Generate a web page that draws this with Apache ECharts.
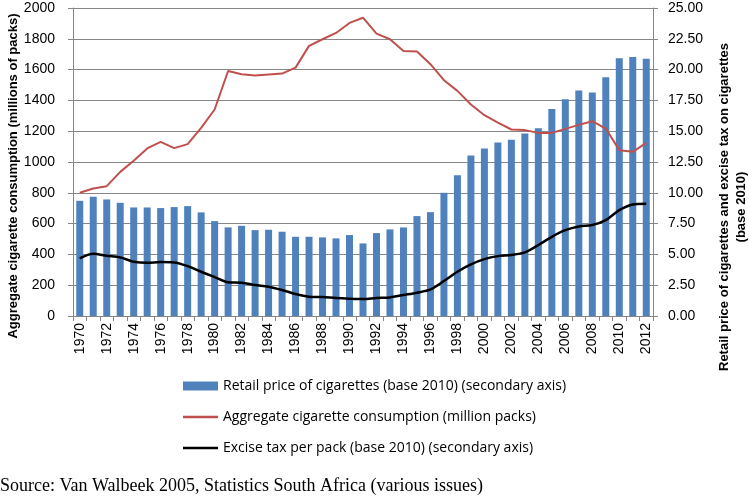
<!DOCTYPE html>
<html><head><meta charset="utf-8">
<script src="https://cdn.jsdelivr.net/npm/echarts@6/dist/echarts.min.js"></script>
<style>html,body{margin:0;padding:0;background:#fff}#c{width:749px;height:496px}</style>
</head><body><div id="c"></div>
<script>
const years = [];
for (let y = 1970; y <= 2012; y++) years.push(String(y));
const retailPrice = [9.35,9.68,9.46,9.19,8.81,8.81,8.76,8.84,8.92,8.41,7.70,7.19,7.32,6.97,7.00,6.84,6.43,6.43,6.38,6.30,6.57,5.89,6.73,7.03,7.19,8.11,8.43,10.0,11.43,13.03,13.59,14.08,14.30,14.81,15.24,16.81,17.59,18.30,18.14,19.38,20.92,21.03,20.89];
const consumption = [800,828,843,936,1008,1088,1131,1090,1116,1222,1341,1591,1570,1561,1568,1574,1613,1754,1797,1838,1903,1937,1834,1797,1721,1717,1635,1531,1462,1373,1304,1256,1211,1207,1189,1189,1215,1241,1265,1217,1077,1066,1124];
const exciseTax = [4.68,5.05,4.89,4.76,4.41,4.32,4.38,4.35,4.05,3.59,3.16,2.73,2.70,2.51,2.38,2.11,1.78,1.57,1.54,1.46,1.41,1.38,1.46,1.51,1.70,1.89,2.16,2.84,3.59,4.19,4.62,4.86,4.95,5.16,5.76,6.43,6.97,7.27,7.38,7.78,8.59,9.05,9.11];

const chart = echarts.init(document.getElementById('c'), null, {renderer:'canvas'});
const font = 'Liberation Sans, Arial, sans-serif';
const lineIcon = 'path://M0,0H70V5H0Z';
chart.setOption({
  animation:false,
  textStyle:{fontFamily:font},
  grid:{left:73, right:96, top:8, bottom:180},
  legend:{
    orient:'vertical', left:178, top:374, itemGap:17, itemWidth:35, itemHeight:9,
    textStyle:{fontFamily:'Open Sans, sans-serif', fontSize:14, color:'#000'},
    data:[
      {name:'Retail price of cigarettes (base 2010) (secondary axis)', icon:'rect'},
      {name:'Aggregate cigarette consumption (million packs)', icon:lineIcon},
      {name:'Excise tax per pack (base 2010) (secondary axis)', icon:lineIcon}
    ]
  },
  xAxis:{
    type:'category', data:years, boundaryGap:true,
    axisLine:{lineStyle:{color:'#868686', width:1}},
    axisTick:{show:true, interval:0, length:5, lineStyle:{color:'#868686'}},
    axisLabel:{interval:1, rotate:90, color:'#000', fontSize:14, margin:7, fontFamily:font}
  },
  yAxis:[
    {type:'value', min:0, max:2000, interval:200, position:'left',
     axisLine:{show:true, lineStyle:{color:'#868686'}},
     axisTick:{show:true, length:5, lineStyle:{color:'#868686'}},
     axisLabel:{color:'#000', fontSize:14, margin:18, fontFamily:font, formatter:v=>String(v)},
     splitLine:{show:true, lineStyle:{color:'#868686', width:1}}},
    {type:'value', min:0, max:25, interval:2.5, position:'right',
     axisLine:{show:true, lineStyle:{color:'#868686'}},
     axisTick:{show:true, length:5, lineStyle:{color:'#868686'}},
     axisLabel:{color:'#000', fontSize:14, margin:15, fontFamily:font, formatter:v=>v.toFixed(2)},
     splitLine:{show:false}}
  ],
  series:[
    {name:'Retail price of cigarettes (base 2010) (secondary axis)', type:'bar', yAxisIndex:1, data:retailPrice, barWidth:7, itemStyle:{color:'#4F81BD'}},
    {name:'Aggregate cigarette consumption (million packs)', type:'line', yAxisIndex:0, data:consumption, symbol:'none', lineStyle:{color:'#C0504D', width:2}, itemStyle:{color:'#C0504D'}},
    {name:'Excise tax per pack (base 2010) (secondary axis)', type:'line', yAxisIndex:1, data:exciseTax, symbol:'none', smooth:0.3, lineStyle:{color:'#000', width:2.5}, itemStyle:{color:'#000'}}
  ],
  graphic:[
    {type:'text', x:13, y:176, rotation:Math.PI/2, style:{text:'Aggregate cigarette consumption (millions of packs)', font:'bold 13px "Liberation Sans", Arial, sans-serif', fill:'#000', align:'center', verticalAlign:'middle'}},
    {type:'text', x:724, y:207, rotation:Math.PI/2, style:{text:'Retail price of cigarettes and excise tax on cigarettes', font:'bold 13px "Liberation Sans", Arial, sans-serif', fill:'#000', align:'center', verticalAlign:'middle'}},
    {type:'text', x:741, y:207, rotation:Math.PI/2, style:{text:'(base 2010)', font:'bold 13px "Liberation Sans", Arial, sans-serif', fill:'#000', align:'center', verticalAlign:'middle'}},
    {type:'text', left:0, top:477, style:{text:'Source: Van Walbeek 2005, Statistics South Africa (various issues)', font:'18px "Liberation Serif", "Times New Roman", serif', fill:'#000'}}
  ]
});
</script></body></html>
